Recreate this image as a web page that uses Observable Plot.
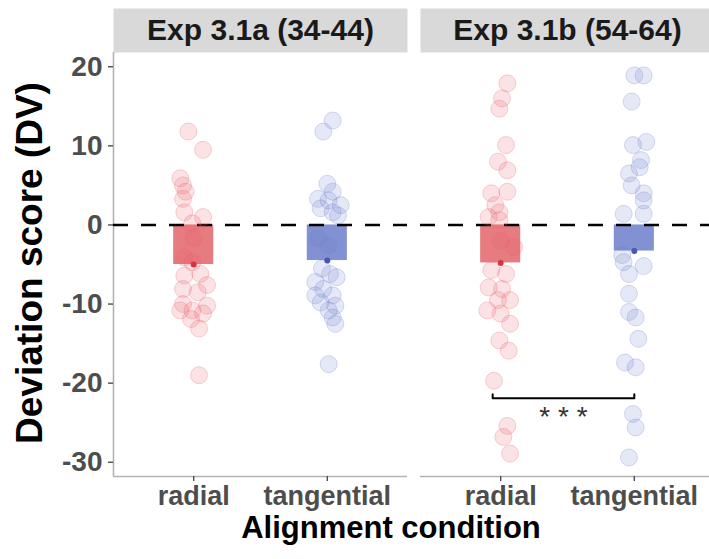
<!DOCTYPE html>
<html>
<head>
<meta charset="utf-8">
<script src="https://cdn.jsdelivr.net/npm/d3@7"></script>
<script src="https://cdn.jsdelivr.net/npm/@observablehq/plot@0.6"></script>
<style>
  html, body { margin: 0; padding: 0; background: #fff; overflow: hidden; }
  #wrap { position: relative; width: 709px; height: 559px; overflow: hidden; font-family: "Liberation Sans", Arial, Helvetica, sans-serif; }
  #chart { position: absolute; left: 0; top: 0; width: 714px; }
  #chart svg { max-width: none !important; width: 714px !important; height: 559px !important; }
  .title { position: absolute; font-weight: bold; color: #000; white-space: nowrap; }
  #xtitle { left: 0px; width: 782px; top: 513px; height: 30px; line-height: 30px; text-align: center; font-size: 31px; }
  #ytitle { left: 30px; top: 263px; line-height: 40px; transform: translate(-50%, -50%) rotate(-90deg); font-size: 37px; }
</style>
</head>
<body>
<div id="wrap">
  <div id="chart"></div>
  <div class="title" id="xtitle">Alignment condition</div>
  <div class="title" id="ytitle">Deviation score (DV)</div>
</div>
<script>
// ---- data ----
const experiments = ["Exp 3.1a (34-44)", "Exp 3.1b (54-64)"];
const conditions = ["radial", "tangential"];
const yTicks = [20, 10, 0, -10, -20, -30];

// Exp 3.1a radial
const aRadialValues = [11.8, 9.5, 5.9, 5.0, 4.2, 3.3, 1.6, 1.0, 0.2, -1.7, -4.1, -4.7, -6.4, -6.2, -7.6, -8.1, -8.5, -10.0, -10.2, -10.8, -10.8, -11.2, -11.9, -13.1, -19.0];
const aRadialJitter = [-0.04, 0.07, -0.10, -0.08, -0.06, -0.08, -0.07, 0.07, -0.01, 0, -0.07, -0.01, -0.07, 0.05, 0.10, -0.08, 0.03, -0.08, 0.10, -0.01, -0.10, 0.07, -0.02, 0.04, 0.04];
// Exp 3.1a tangential
const aTangValues = [13.2, 11.8, 5.2, 4.2, 3.3, 3.1, 2.5, 2.1, 1.6, 1.2, -1.7, -2.6, -5.5, -6.2, -6.6, -7.2, -8.1, -8.9, -8.9, -9.8, -10.2, -10.8, -11.7, -12.5, -17.6];
const aTangJitter = [0.04, -0.03, 0, 0.04, -0.07, 0.01, 0.10, -0.05, 0.04, 0.08, -0.07, 0.01, -0.04, 0.02, 0.07, -0.09, -0.03, -0.09, 0.04, -0.05, 0.06, 0.01, 0.04, 0.06, 0.01];
// Exp 3.1b radial
const bRadialValues = [17.9, 16.0, 14.7, 10.1, 8.0, 6.9, 4.0, 4.2, 2.5, 1.6, 1.0, 0.6, -2.0, -2.8, -5.7, -6.2, -7.9, -8.1, -9.5, -9.5, -10.8, -11.2, -12.5, -14.6, -15.9, -19.7, -25.4, -26.8, -28.9];
const bRadialJitter = [0.05, 0.01, -0.01, 0.04, -0.02, 0.05, -0.07, 0.05, -0.04, -0.01, -0.09, -0.01, 0, 0.10, -0.07, 0.04, -0.09, 0.01, -0.02, 0.07, -0.10, 0, 0.07, -0.01, 0.06, -0.05, 0.05, 0.02, 0.07];
// Exp 3.1b tangential
const bTangValues = [18.9, 18.9, 15.6, 10.1, 10.5, 8.2, 7.3, 6.5, 5.0, 4.0, 3.1, 1.4, 1.4, -3.8, -4.7, -5.2, -6.2, -8.7, -11.0, -11.7, -14.4, -17.4, -18.0, -23.9, -25.6, -29.4];
const bTangJitter = [0, 0.07, -0.02, -0.01, 0.09, 0.05, 0.04, -0.04, -0.02, 0.07, 0.07, -0.08, 0.07, -0.09, -0.08, 0.07, -0.04, -0.04, -0.04, 0.01, 0.03, -0.07, 0.01, -0.01, 0.01, -0.04];

// condition means (bars)
const meanExp = [experiments[0], experiments[0], experiments[1], experiments[1]];
const meanCond = ["radial", "tangential", "radial", "tangential"];
const meanValues = [-5.0, -4.5, -4.8, -3.3];

// significance bracket (Exp 3.1b)
const sigExp = experiments[1];
const sigX = [0.94, 2.0];
const sigY = -21.9;
const sigTipY = -21.4;
const sigLabelY = -24.3;
const sigLabel = "* * *";

// ---- build tables ----
function rows(exp, cond, vals, jit) {
  return vals.map((v, i) => ({exp, cond, xi: conditions.indexOf(cond) + 1, jit: jit[i], value: v}));
}
const points = [
  ...rows(experiments[0], "radial", aRadialValues, aRadialJitter),
  ...rows(experiments[0], "tangential", aTangValues, aTangJitter),
  ...rows(experiments[1], "radial", bRadialValues, bRadialJitter),
  ...rows(experiments[1], "tangential", bTangValues, bTangJitter)
];
const means = meanValues.map((m, i) => ({exp: meanExp[i], cond: meanCond[i], xi: conditions.indexOf(meanCond[i]) + 1, mean: m}));
const bracket = [
  {exp: sigExp, x: sigX[0], y: sigTipY},
  {exp: sigExp, x: sigX[0], y: sigY},
  {exp: sigExp, x: sigX[1], y: sigY},
  {exp: sigExp, x: sigX[1], y: sigTipY}
];
const sigText = [{exp: sigExp, x: (sigX[0] + sigX[1]) / 2, y: sigLabelY, label: sigLabel}];

// ---- styles ----
const pointColor = {radial: "#E8606A", tangential: "#6F80CC"};
const barColor = {radial: "#E67579", tangential: "#7A8BCF"};
const meanColor = {radial: "#D63340", tangential: "#4358B8"};
const W = 714, H = 559, mT = 52, mB = 83, mL = 113, mR = 0;
const panelH = H - mT - mB;
const xDomain = [0.4, 2.6];
const yDomain = [-31.8, 21.8];
const halfBar = 0.15;
const font = "'Liberation Sans', Arial, Helvetica, sans-serif";

const chart = Plot.plot({
  width: W, height: H,
  marginTop: mT, marginBottom: mB, marginLeft: mL, marginRight: mR,
  style: {fontFamily: font, background: "transparent", overflow: "visible", maxWidth: "none"},
  fx: {domain: experiments, padding: 13 / 307, axis: null, label: null},
  x: {domain: xDomain, label: null},
  y: {domain: yDomain, label: null},
  marks: [
    Plot.frame({fill: "#d9d9d9", stroke: "none", insetTop: -44, insetBottom: panelH}),
    Plot.text(experiments, {fx: d => d, text: d => d, frameAnchor: "top", lineAnchor: "middle", dy: -22, fontSize: 30, fontWeight: "bold", fill: "#1a1a1a"}),
    Plot.ruleX([xDomain[0]], {stroke: "#b3b3b3", strokeWidth: 1.6, facetAnchor: "left"}),
    Plot.ruleY([yDomain[0]], {stroke: "#b3b3b3", strokeWidth: 1.6}),
    Plot.axisY({ticks: yTicks, tickFormat: d => String(d), tickSize: 5, tickPadding: 6, fontSize: 28, fontWeight: "bold", fill: "#4d4d4d", stroke: "#4d4d4d", strokeWidth: 1.4, label: null}),
    Plot.axisX({ticks: [1, 2], tickFormat: i => conditions[i - 1], tickSize: 5, tickPadding: 4, fontSize: 27, fontWeight: "bold", fill: "#4d4d4d", stroke: "#4d4d4d", strokeWidth: 1.4, label: null}),
    Plot.rectY(means, {fx: "exp", x1: d => d.xi - halfBar, x2: d => d.xi + halfBar, y1: () => 0, y2: "mean", fill: d => barColor[d.cond], fillOpacity: 0.95}),
    Plot.ruleY([0], {stroke: "#000", strokeWidth: 2.6, strokeDasharray: "15,13"}),
    Plot.dot(points, {fx: "exp", x: d => d.xi + d.jit, y: "value", r: 8.5, fill: d => pointColor[d.cond], fillOpacity: 0.18, stroke: d => pointColor[d.cond], strokeOpacity: 0.28, strokeWidth: 1}),
    Plot.dot(means, {fx: "exp", x: "xi", y: "mean", r: 3, fill: d => meanColor[d.cond]}),
    Plot.line(bracket, {fx: "exp", x: "x", y: "y", stroke: "#000", strokeWidth: 2}),
    Plot.text(sigText, {fx: "exp", x: "x", y: "y", text: "label", fontSize: 28, fill: "#333"})
  ]
});
document.getElementById("chart").appendChild(chart);
</script>
</body>
</html>
